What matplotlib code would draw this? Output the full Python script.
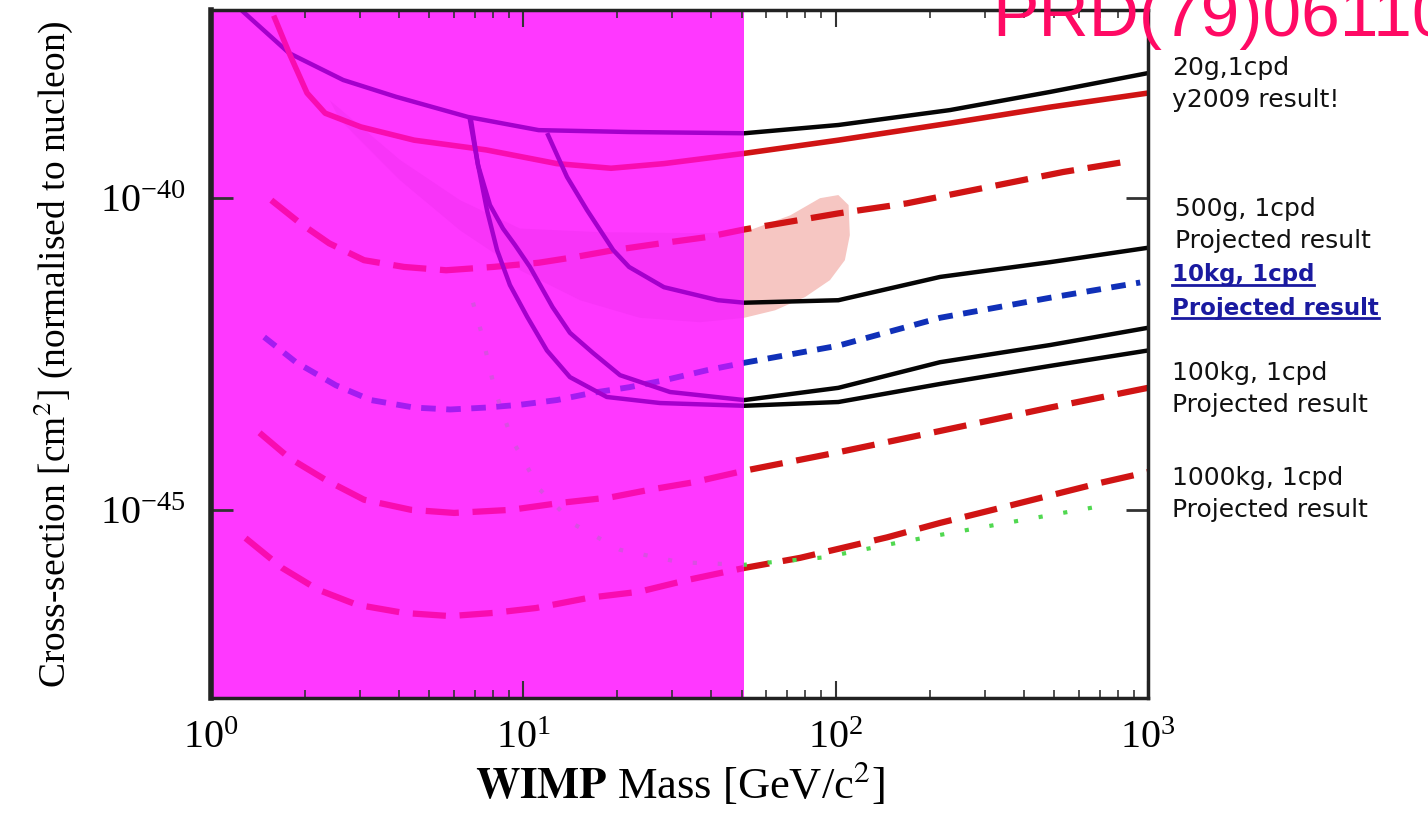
import numpy as np
import matplotlib
matplotlib.use("Agg")
import matplotlib.pyplot as plt
from matplotlib.patches import Rectangle
from matplotlib.lines import Line2D
from matplotlib.ticker import LogLocator, NullFormatter, NullLocator

# WIMP mass [GeV/c^2] and cross-section [cm^2]
# 20g result, black solid
cdms_m = [1.27, 1.78, 2.65, 3.91, 6.65, 11.2, 21.8, 51, 102, 232, 486, 1000]
cdms_s = [9.3e-38, 2.04e-38, 7.6e-39, 4.1e-39, 1.95e-39, 1.2e-39, 1.12e-39,
          1.07e-39, 1.45e-39, 2.51e-39, 4.9e-39, 9.8e-39]
# 20g result, red solid
r20_m = [1.60, 1.78, 2.03, 2.32, 3.02, 4.47, 7.60, 12.8, 19.1, 28.2, 51, 102, 232, 486, 1000]
r20_s = [7.4e-38, 2.04e-38, 4.7e-39, 2.24e-39, 1.35e-39, 8.3e-40, 5.8e-40, 3.5e-40,
         2.95e-40, 3.5e-40, 5.1e-40, 8.3e-40, 1.55e-39, 2.8e-39, 4.7e-39]
# 500g projection, red dashed
p500_m = [1.56, 1.93, 2.39, 3.09, 4.15, 5.66, 8.00, 11.2, 14.6, 19.5, 27.6, 38.7, 51,
          102, 169, 535, 889]
p500_s = [9.1e-41, 3.9e-41, 1.86e-41, 1.0e-41, 7.8e-42, 6.9e-42, 7.8e-42, 9.1e-42,
          1.12e-41, 1.45e-41, 1.86e-41, 2.34e-41, 3.1e-41, 5.6e-41, 8.1e-41, 2.57e-40, 3.9e-40]
# black solid, middle
mid_m = [12.0, 13.8, 16.0, 19.4, 21.8, 28.2, 42.0, 51, 102, 216, 486, 1000]
mid_s = [1.0e-39, 2.14e-40, 6.3e-41, 1.45e-41, 7.8e-42, 3.7e-42, 2.29e-42, 2.09e-42,
         2.29e-42, 5.4e-42, 9.3e-42, 1.58e-41]
# 10kg projection, blue dotted
p10k_m = [1.48, 1.87, 2.51, 3.25, 4.47, 5.83, 7.60, 9.83, 12.8, 16.7, 21.8, 28.2, 38.7,
          51, 102, 216, 486, 944]
p10k_s = [5.9e-43, 2.34e-43, 1.0e-43, 5.8e-44, 4.4e-44, 4.1e-44, 4.4e-44, 4.9e-44,
          5.8e-44, 7.6e-44, 9.3e-44, 1.2e-43, 1.74e-43, 2.29e-43, 4.3e-43, 1.2e-42,
          2.51e-42, 4.4e-42]
# two black solid curves, lower pair
low_a_m = [6.75, 7.11, 7.65, 8.24, 9.06, 10.3, 11.9, 14.1, 18.5, 27.4, 51, 102, 216, 486, 1000]
low_a_s = [1.74e-39, 4.0e-40, 6.3e-41, 1.45e-41, 4.0e-42, 1.23e-42, 3.6e-43, 1.35e-43,
           6.5e-44, 5.2e-44, 4.7e-44, 5.4e-44, 1.05e-43, 2.04e-43, 3.6e-43]
low_b_m = [6.80, 7.16, 7.82, 8.61, 9.41, 10.5, 12.4, 14.1, 16.7, 20.4, 29.5, 51, 102, 216,
           486, 1000]
low_b_s = [1.74e-39, 3.3e-40, 7.6e-41, 3.2e-41, 1.74e-41, 7.8e-42, 1.78e-42, 6.9e-43,
           3.3e-43, 1.45e-43, 7.8e-44, 5.8e-44, 9.1e-44, 2.34e-43, 4.4e-43, 8.3e-43]
# 100kg projection, red dashed
p100k_m = [1.43, 1.78, 2.32, 3.09, 4.37, 6.00, 9.14, 13.2, 19.1, 25.4, 34.9, 51, 102, 216,
           486, 1000]
p100k_s = [1.74e-44, 6.9e-45, 3.1e-45, 1.48e-45, 1.02e-45, 9.1e-46, 1.02e-45, 1.32e-45,
           1.62e-45, 2.14e-45, 2.8e-45, 4.3e-45, 8.5e-45, 1.86e-44, 4.4e-44, 9.1e-44]
# 1000kg projection, red dashed
p1t_m = [1.29, 1.69, 2.20, 2.93, 4.15, 5.83, 8.00, 11.0, 16.2, 23.5, 33.9, 51, 76.9, 146,
         216, 370, 703, 1000]
p1t_s = [3.6e-46, 1.2e-46, 5.4e-47, 3.1e-47, 2.29e-47, 2.04e-47, 2.29e-47, 2.75e-47,
         4.0e-47, 5.0e-47, 7.8e-47, 1.2e-46, 1.74e-46, 3.7e-46, 6.3e-46, 1.23e-45,
         2.75e-45, 4.1e-45]
# green dotted
grn_m = [6.90, 7.38, 8.11, 9.20, 11.3, 14.6, 20.4, 31.7, 51, 92.5, 161, 284, 767]
grn_s = [2.09e-42, 6.3e-43, 8.3e-44, 1.35e-44, 2.14e-45, 5.9e-46, 2.34e-46, 1.48e-46,
         1.35e-46, 1.78e-46, 3.1e-46, 5.2e-46, 1.26e-45]
# shaded allowed region
blob_m = [2.40, 4.03, 6.27, 9.76, 17.6, 36.8, 51, 71.5, 89.1, 102, 110, 111, 107, 95.9,
          79.8, 64.0, 51, 36.8, 23.6, 15.2, 9.76, 6.27, 4.03, 2.59]
blob_s = [3.6e-39, 4.0e-40, 9.1e-41, 3.2e-41, 2.8e-41, 2.7e-41, 2.8e-41, 5.2e-41, 9.8e-41,
          1.1e-40, 7.6e-41, 2.51e-41, 1.0e-41, 4.8e-42, 2.57e-42, 1.58e-42, 1.2e-42,
          1.02e-42, 1.2e-42, 2.29e-42, 6.9e-42, 3.0e-41, 1.9e-40, 1.74e-39]

mask_edge = 51  # magenta cover runs from 1 to 51 GeV

plt.rcParams['font.family'] = ['Liberation Serif', 'DejaVu Serif']
plt.rcParams['mathtext.fontset'] = 'stix'

fig = plt.figure(figsize=(14.28, 8.16), dpi=100)
ax = fig.add_axes([211 / 1428, 1 - 698 / 816, 937 / 1428, 688 / 816])
ax.set_xscale('log')
ax.set_yscale('log')
ax.set_xlim(1, 1000)
ax.set_ylim(1e-48, 1e-37)

ax.axvspan(1, mask_edge, color='#ff38ff', lw=0, zorder=0.5)

left_clip = Rectangle((1, 1e-48), mask_edge - 1, 1e-37, transform=ax.transData)
right_clip = Rectangle((mask_edge, 1e-48), 1000 - mask_edge, 1e-37, transform=ax.transData)


def two_tone(x, y, col, tint, **kw):
    a, = ax.plot(x, y, color=tint, zorder=2, **kw)
    a.set_clip_path(left_clip)
    b, = ax.plot(x, y, color=col, zorder=2, **kw)
    b.set_clip_path(right_clip)


for p in ax.fill(blob_m, blob_s, color='#f834f8', lw=0, zorder=1):
    p.set_clip_path(left_clip)
for p in ax.fill(blob_m, blob_s, color='#f6c6c2', lw=0, zorder=1):
    p.set_clip_path(right_clip)

red, pink = '#d01414', '#f80cb0'
black, purple = '#050505', '#a400cc'
dash = dict(lw=4.5, dashes=(5.3, 2.2), solid_capstyle='butt')

two_tone(cdms_m, cdms_s, black, purple, lw=3.2)
two_tone(r20_m, r20_s, red, pink, lw=4)
two_tone(p500_m, p500_s, red, pink, **dash)
two_tone(mid_m, mid_s, black, purple, lw=3.2)
two_tone(p10k_m, p10k_s, '#1030b8', '#a41cf0', lw=4.2, dashes=(2.5, 1.8))
two_tone(low_a_m, low_a_s, black, purple, lw=3.2)
two_tone(low_b_m, low_b_s, black, purple, lw=3.2)
two_tone(p100k_m, p100k_s, red, pink, **dash)
two_tone(p1t_m, p1t_s, red, pink, **dash)
two_tone(grn_m, grn_s, '#50d850', '#d850e0', lw=3, dashes=(1, 5))

ax.xaxis.set_major_locator(LogLocator(base=10, numticks=10))
ax.xaxis.set_minor_locator(LogLocator(base=10, subs=np.arange(2, 10), numticks=20))
ax.xaxis.set_minor_formatter(NullFormatter())
ax.set_yticks([1e-45, 1e-40])
ax.yaxis.set_minor_locator(NullLocator())
ax.tick_params(which='both', direction='in', top=True, right=True, color='#333',
               labelsize=29, zorder=3)
ax.tick_params(axis='x', which='major', length=12, width=1.5, pad=16)
ax.tick_params(axis='x', which='minor', length=6, width=1.2)
ax.tick_params(axis='y', which='major', length=16, width=2, pad=18)

for s in ax.spines.values():
    s.set_linewidth(2.5)
    s.set_color('#222')
    s.set_zorder(4)
ax.spines['left'].set_linewidth(4)

ax.set_ylabel("Cross-section [cm$^2$] (normalised to nucleon)", fontsize=27)
ax.yaxis.set_label_coords(-0.145, 0.5)
ax.set_xlabel(r"$\mathbf{WIMP}$ Mass [GeV/c$^2$]", fontsize=32)
ax.xaxis.set_label_coords(0.5, -0.09)

# labels on the right
side = dict(fontsize=18, family='DejaVu Sans', color='#111', va='center', ha='left',
            linespacing=1.45)
fig.text(1172 / 1428, 1 - 84 / 816, "20g,1cpd\ny2009 result!", **side)
fig.text(1175 / 1428, 1 - 225 / 816, "500g, 1cpd\nProjected result", **side)
fig.text(1172 / 1428, 1 - 389 / 816, "100kg, 1cpd\nProjected result", **side)
fig.text(1172 / 1428, 1 - 494 / 816, "1000kg, 1cpd\nProjected result", **side)

blue_txt = []
for txt, ypx in [("10kg, 1cpd", 275), ("Projected result", 308)]:
    blue_txt.append(fig.text(1172 / 1428, 1 - ypx / 816, txt, fontsize=16.5,
                             fontweight='bold', family='DejaVu Sans', color='#1a1aa0',
                             va='center', ha='left'))

# reference tag, cut by the top-right corner as in the original slide
fig.text(992 / 1428, 1 - 36 / 816, "PRD(79)061101", fontsize=50, color='#ff0a64',
         family='Liberation Sans', va='baseline', ha='left')

fig.canvas.draw()
rend = fig.canvas.get_renderer()
inv = fig.transFigure.inverted()
for t in blue_txt:
    bb = t.get_window_extent(rend)
    (x0, y0), (x1, _) = inv.transform([(bb.x0, bb.y0 + 2), (bb.x1, bb.y0 + 2)])
    fig.add_artist(Line2D([x0, x1], [y0, y0], color='#1a1aa0', lw=2))

fig.savefig('out.png', dpi=100)
